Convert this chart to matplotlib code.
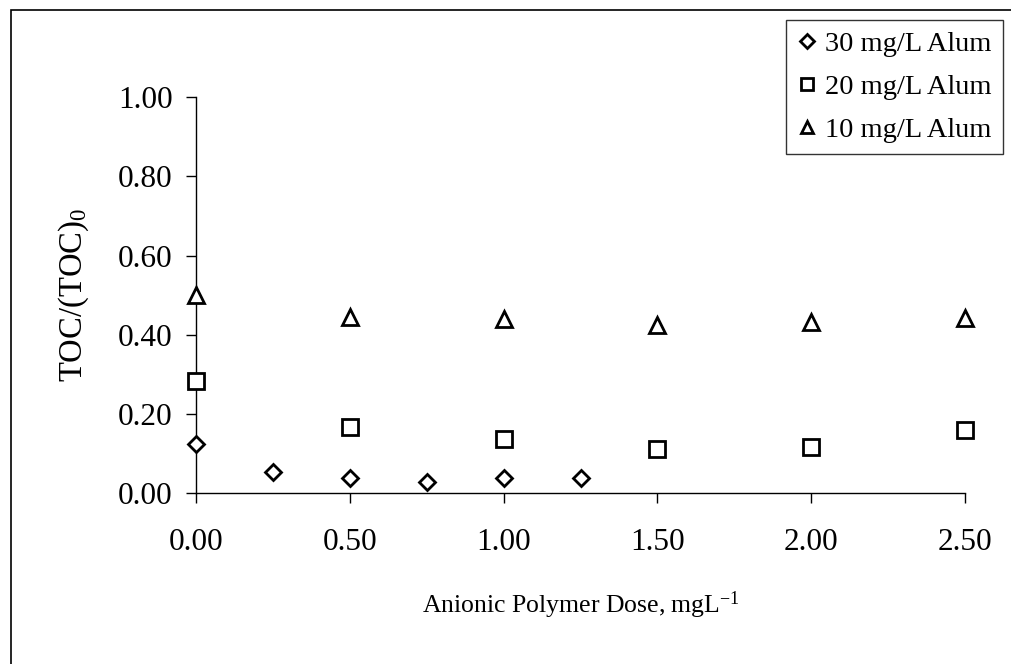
import numpy as np
import matplotlib
matplotlib.use("Agg")
import matplotlib.pyplot as plt
from matplotlib.patches import Rectangle
from matplotlib.ticker import FormatStrFormatter

plt.rcParams['font.family'] = ['Liberation Serif', 'DejaVu Serif']
plt.rcParams['mathtext.fontset'] = 'custom'
plt.rcParams['mathtext.rm'] = 'Liberation Serif'
plt.rcParams['mathtext.it'] = 'Liberation Serif:italic'

# data
dose_30 = [0.0, 0.25, 0.50, 0.75, 1.00, 1.25]
toc_30 = [0.125, 0.053, 0.039, 0.028, 0.039, 0.039]
dose_20 = [0.0, 0.50, 1.00, 1.50, 2.00, 2.50]
toc_20 = [0.284, 0.167, 0.137, 0.111, 0.118, 0.160]
dose_10 = [0.0, 0.50, 1.00, 1.50, 2.00, 2.50]
toc_10 = [0.501, 0.445, 0.440, 0.425, 0.433, 0.443]
labels = ["30 mg/L Alum", "20 mg/L Alum", "10 mg/L Alum"]
x_ticks = [0.0, 0.5, 1.0, 1.5, 2.0, 2.5]
y_ticks = [0.0, 0.2, 0.4, 0.6, 0.8, 1.0]

W, H = 1011, 664
fig = plt.figure(figsize=(W/100, H/100), dpi=100)
ax = fig.add_axes([196/W, 1 - 493.3/H, (965-196)/W, (493.3-97)/H])

mk = dict(linestyle='none', mfc='white', mec='black', mew=2.0, clip_on=False, zorder=3)
ax.plot(dose_30, toc_30, marker='D', ms=8, label=labels[0], **mk)
ax.plot(dose_20, toc_20, marker='s', ms=11, label=labels[1], **mk)
ax.plot(dose_10, toc_10, marker='^', ms=11, label=labels[2], **mk)

ax.set_xlim(0, 2.5)
ax.set_ylim(0, 1.0)
ax.set_xticks(x_ticks)
ax.set_yticks(y_ticks)
ax.xaxis.set_major_formatter(FormatStrFormatter('%.2f'))
ax.yaxis.set_major_formatter(FormatStrFormatter('%.2f'))
for s in ['top', 'right']:
    ax.spines[s].set_visible(False)
for s in ['left', 'bottom']:
    ax.spines[s].set_linewidth(1.0)
ax.tick_params(axis='both', direction='out', length=7, width=1.0, labelsize=22.5)
ax.tick_params(axis='y', pad=10)
ax.tick_params(axis='x', pad=18)
ax.patch.set_alpha(0)

ax.set_xlabel("Anionic Polymer Dose, mgL$^{\\mathrm{-1}}$", fontsize=18.5)
ax.xaxis.label.set_verticalalignment('baseline')
ax.xaxis.set_label_coords(0.5, -0.303)
ax.set_ylabel("TOC/(TOC)$_{\\mathrm{0}}$", fontsize=23.5)
ax.yaxis.set_label_coords(-0.137, 0.5)

leg = fig.legend(loc='upper left', bbox_to_anchor=(786/W, 1 - 20/H), borderaxespad=0,
                 fontsize=20.5, frameon=True, fancybox=False, edgecolor='black',
                 handlelength=0.7, handletextpad=0.3, labelspacing=0.6, borderpad=0.38,
                 markerscale=0.85)
leg.get_frame().set_linewidth(1.0)

# outer chart frame (left and top edges visible in the scan)
fig.add_artist(Rectangle((11/W, -0.1), 1.2, 1.1 - 10/H, transform=fig.transFigure,
                         fill=False, edgecolor='black', linewidth=1.2))

fig.savefig("out.png", dpi=100)
